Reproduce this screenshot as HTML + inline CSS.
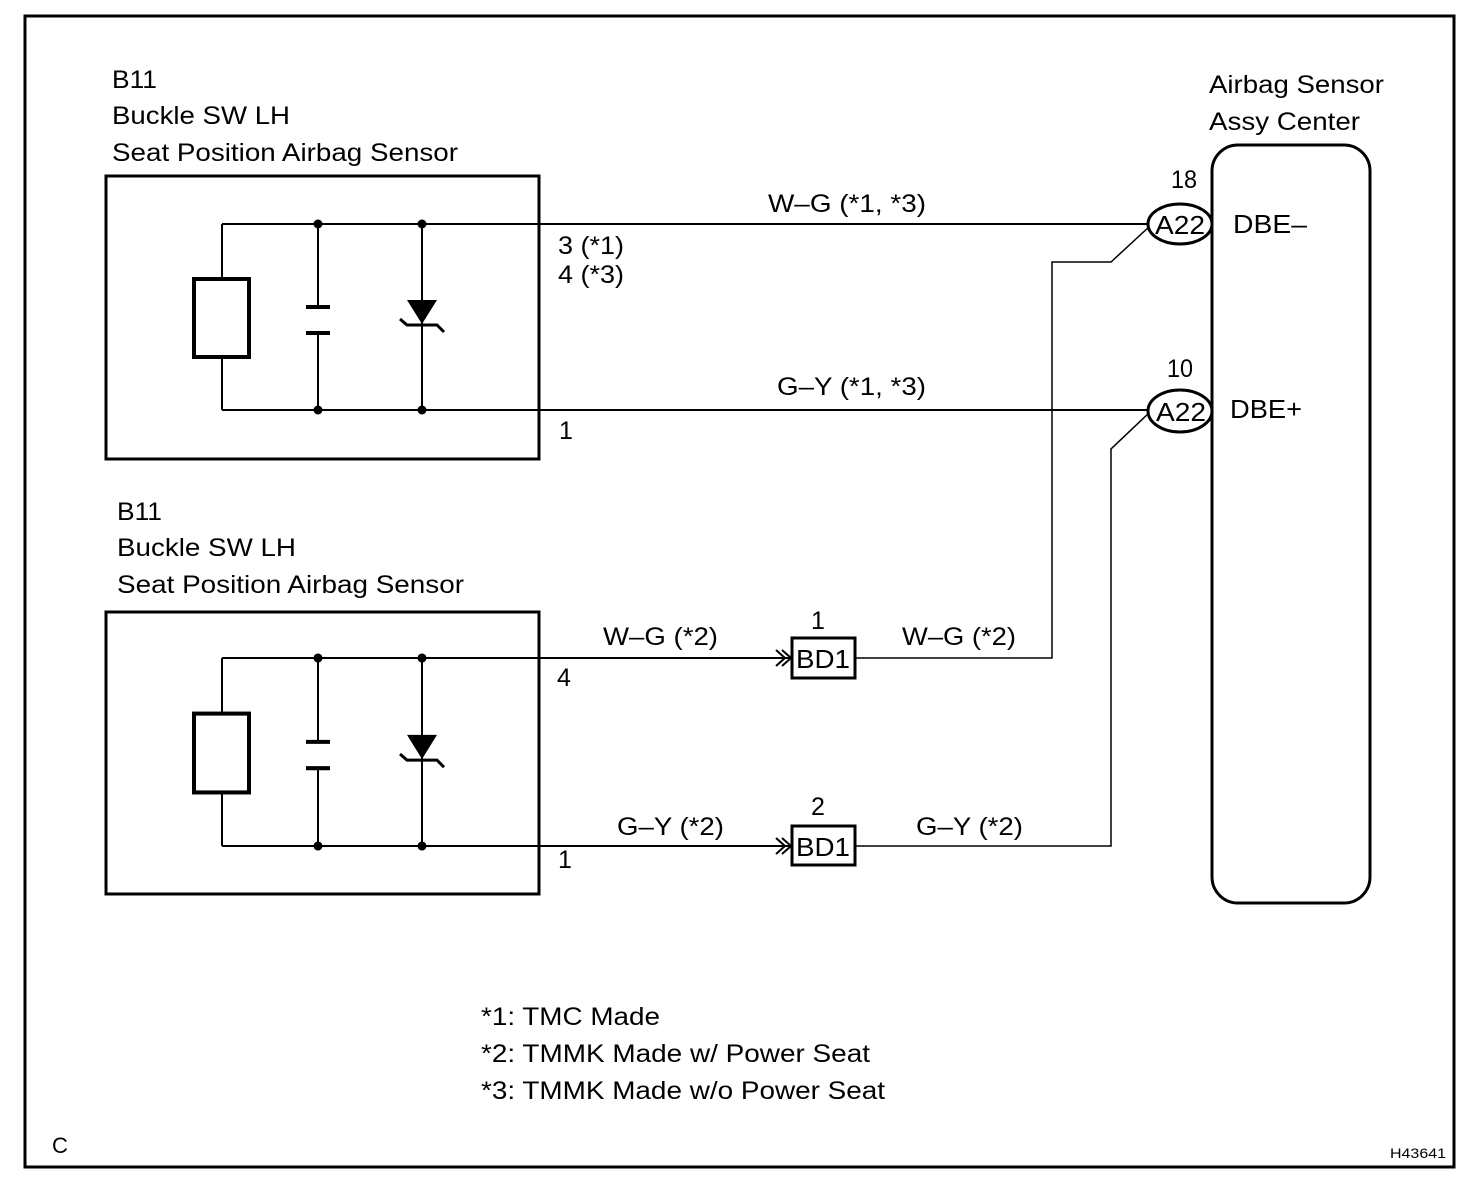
<!DOCTYPE html>
<html><head><meta charset="utf-8"><style>
html,body{margin:0;padding:0;background:#fff;}
svg{display:block;}
text{font-family:"Liberation Sans",Arial,sans-serif;fill:#000;}
</style></head><body>
<svg width="1472" height="1188" viewBox="0 0 1472 1188" xmlns="http://www.w3.org/2000/svg">
<defs>
<g id="comp">
  <path d="M222 0 V55 M222 133 V186 M318 0 V83 M318 109 V186 M422 0 V186" stroke="#000" stroke-width="2" fill="none"/>
  <rect x="194" y="55" width="55" height="78" fill="#fff" stroke="#000" stroke-width="4"/>
  <path d="M306 83 H330 M306 109 H330" stroke="#000" stroke-width="4"/>
  <polygon points="407,76 437,76 422,100" fill="#000"/>
  <path d="M400 95 L407 101 H437 L444 108" stroke="#000" stroke-width="3" fill="none"/>
  <circle cx="318" cy="0" r="4.5"/><circle cx="422" cy="0" r="4.5"/>
  <circle cx="318" cy="186" r="4.5"/><circle cx="422" cy="186" r="4.5"/>
</g>
</defs>
<rect x="25" y="16" width="1429" height="1151" fill="none" stroke="#000" stroke-width="3"/>

<rect x="106" y="176" width="433" height="283" fill="none" stroke="#000" stroke-width="3"/>
<path d="M222 224 H1148 M222 410 H1148" stroke="#000" stroke-width="2" fill="none"/>
<use href="#comp" transform="translate(0,224)"/>
<text x="112" y="88" font-size="25" textLength="45" lengthAdjust="spacingAndGlyphs">B11</text>
<text x="112" y="124" font-size="25" textLength="178" lengthAdjust="spacingAndGlyphs">Buckle SW LH</text>
<text x="112" y="161" font-size="25" textLength="346" lengthAdjust="spacingAndGlyphs">Seat Position Airbag Sensor</text>
<text x="558" y="254" font-size="25" textLength="66" lengthAdjust="spacingAndGlyphs">3 (*1)</text>
<text x="558" y="283" font-size="25" textLength="66" lengthAdjust="spacingAndGlyphs">4 (*3)</text>
<text x="559" y="439" font-size="25">1</text>
<text x="768" y="212" font-size="25" textLength="158" lengthAdjust="spacingAndGlyphs">W–G (*1, *3)</text>
<text x="777" y="395" font-size="25" textLength="149" lengthAdjust="spacingAndGlyphs">G–Y (*1, *3)</text>

<rect x="106" y="612" width="433" height="282" fill="none" stroke="#000" stroke-width="3"/>
<path d="M222 658 H790 M222 846 H790" stroke="#000" stroke-width="2" fill="none"/>
<g transform="translate(0,658) scale(1,1.0108)"><use href="#comp"/></g>
<text x="117" y="520" font-size="25" textLength="45" lengthAdjust="spacingAndGlyphs">B11</text>
<text x="117" y="556" font-size="25" textLength="179" lengthAdjust="spacingAndGlyphs">Buckle SW LH</text>
<text x="117" y="593" font-size="25" textLength="347" lengthAdjust="spacingAndGlyphs">Seat Position Airbag Sensor</text>
<text x="557" y="686" font-size="25">4</text>
<text x="558" y="868" font-size="25">1</text>
<text x="603" y="645" font-size="25" textLength="115" lengthAdjust="spacingAndGlyphs">W–G (*2)</text>
<text x="617" y="835" font-size="25" textLength="107" lengthAdjust="spacingAndGlyphs">G–Y (*2)</text>

<path d="M776 650 L785 658 L776 666 M782 650 L791 658 L782 666" stroke="#000" stroke-width="2" fill="none"/>
<path d="M776 838 L785 846 L776 854 M782 838 L791 846 L782 854" stroke="#000" stroke-width="2" fill="none"/>
<rect x="792" y="638" width="63" height="40" fill="#fff" stroke="#000" stroke-width="3"/>
<rect x="792" y="826" width="63" height="39" fill="#fff" stroke="#000" stroke-width="3"/>
<text x="796" y="668" font-size="26" textLength="54" lengthAdjust="spacingAndGlyphs">BD1</text>
<text x="796" y="856" font-size="26" textLength="54" lengthAdjust="spacingAndGlyphs">BD1</text>
<text x="818" y="629" font-size="25" text-anchor="middle">1</text>
<text x="818" y="815" font-size="25" text-anchor="middle">2</text>
<text x="902" y="645" font-size="25" textLength="114" lengthAdjust="spacingAndGlyphs">W–G (*2)</text>
<text x="916" y="835" font-size="25" textLength="107" lengthAdjust="spacingAndGlyphs">G–Y (*2)</text>

<path d="M855 658 H1052 V262 H1111 L1150 226" stroke="#000" stroke-width="1.5" fill="none"/>
<path d="M855 846 H1111 V449 L1150 412" stroke="#000" stroke-width="1.5" fill="none"/>

<rect x="1212" y="145" width="158" height="758" rx="26" fill="none" stroke="#000" stroke-width="3"/>
<ellipse cx="1180" cy="224" rx="32" ry="20" fill="#fff" stroke="#000" stroke-width="3"/>
<ellipse cx="1180" cy="411" rx="32" ry="21" fill="#fff" stroke="#000" stroke-width="3"/>
<text x="1155" y="234" font-size="26" textLength="50" lengthAdjust="spacingAndGlyphs">A22</text>
<text x="1156" y="421" font-size="26" textLength="50" lengthAdjust="spacingAndGlyphs">A22</text>
<text x="1171" y="188" font-size="25" textLength="26" lengthAdjust="spacingAndGlyphs">18</text>
<text x="1167" y="377" font-size="25" textLength="26" lengthAdjust="spacingAndGlyphs">10</text>
<text x="1233" y="233" font-size="26" textLength="74" lengthAdjust="spacingAndGlyphs">DBE–</text>
<text x="1230" y="418" font-size="26" textLength="72" lengthAdjust="spacingAndGlyphs">DBE+</text>
<text x="1209" y="93" font-size="25" textLength="175" lengthAdjust="spacingAndGlyphs">Airbag Sensor</text>
<text x="1209" y="130" font-size="25" textLength="151" lengthAdjust="spacingAndGlyphs">Assy Center</text>

<text x="481" y="1025" font-size="25" textLength="179" lengthAdjust="spacingAndGlyphs">*1: TMC Made</text>
<text x="481" y="1062" font-size="25" textLength="389" lengthAdjust="spacingAndGlyphs">*2: TMMK Made w/ Power Seat</text>
<text x="481" y="1099" font-size="25" textLength="404" lengthAdjust="spacingAndGlyphs">*3: TMMK Made w/o Power Seat</text>
<text x="52" y="1153" font-size="22">C</text>
<text x="1390" y="1158" font-size="14" textLength="56" lengthAdjust="spacingAndGlyphs">H43641</text>
</svg>
</body></html>
